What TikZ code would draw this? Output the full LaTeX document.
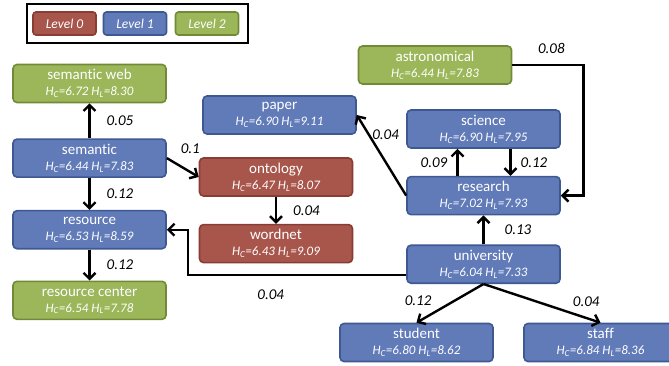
\documentclass[tikz,border=0pt]{standalone}
\usepackage{fontspec}
\setmainfont{Carlito}[Ligatures=NoCommon]
\usetikzlibrary{arrows.meta, positioning}

\definecolor{lvlred}{RGB}{168,86,76}
\definecolor{lvlredline}{RGB}{136,60,52}
\definecolor{lvlblue}{RGB}{97,122,184}
\definecolor{lvlblueline}{RGB}{62,88,146}
\definecolor{lvlgreen}{RGB}{155,183,90}
\definecolor{lvlgreenline}{RGB}{114,138,56}

\newcommand{\entr}[2]{{\fontsize{13}{14}\selectfont\itshape H\textsubscript{C}=#1 H\textsubscript{L}=#2}}

\tikzset{
  term/.style={rectangle, rounded corners=4pt, line width=1.6pt, minimum width=153pt,
               minimum height=38pt, inner sep=1pt, align=center, text=white,
               font=\fontsize{15}{16}\selectfont},
  lvl0/.style={term, fill=lvlred, draw=lvlredline},
  lvl1/.style={term, fill=lvlblue, draw=lvlblueline},
  lvl2/.style={term, fill=lvlgreen, draw=lvlgreenline},
  key/.style={rectangle, rounded corners=3pt, line width=1.6pt, minimum width=63pt,
              minimum height=23pt, text=white, font=\fontsize{13.5}{14}\selectfont\itshape},
  wt/.style={font=\fontsize{15}{15}\selectfont\itshape, text=black, inner sep=4pt}
}

\begin{document}
\begin{tikzpicture}[x=1pt, y=-1pt, auto, >={Straight Barb[length=6pt,width=12pt]}]
    \useasboundingbox (0,0) rectangle (669,366);

    % legend
    \node [draw, line width=2.4pt, minimum width=221pt, minimum height=39pt] (legend) at (137.5,23.5) {};
    \node [key, fill=lvlred, draw=lvlredline] (l0) at (64.5,23.5) {Level 0};
    \node [key, fill=lvlblue, draw=lvlblueline] (l1) at (135,23.5) {Level 1};
    \node [key, fill=lvlgreen, draw=lvlgreenline] (l2) at (207,23.5) {Level 2};

    % terms
    \node [lvl2] (semweb) at (89.5,83.5) {semantic web\\ \entr{6.72}{8.30}};
    \node [lvl1] (semantic) [below=35pt of semweb] {semantic\\ \entr{6.44}{7.83}};
    \node [lvl1] (resource) [below=32pt of semantic] {resource\\ \entr{6.53}{8.59}};
    \node [lvl2] (rescenter) [below=31pt of resource] {resource center\\ \entr{6.54}{7.78}};
    \node [lvl1] (paper) at (279.5,115) {paper\\ \entr{6.90}{9.11}};
    \node [lvl0] (ontology) at (276,177) {ontology\\ \entr{6.47}{8.07}};
    \node [lvl0] (wordnet) [below=27pt of ontology] {wordnet\\ \entr{6.43}{9.09}};
    \node [lvl2] (astro) at (435,65) {astronomical\\ \entr{6.44}{7.83}};
    \node [lvl1] (science) at (483.5,129) {science\\ \entr{6.90}{7.95}};
    \node [lvl1] (research) [below=27pt of science] {research\\ \entr{7.02}{7.93}};
    \node [lvl1] (univ) [below=29pt of research] {university\\ \entr{6.04}{7.33}};
    \node [lvl1] (student) at (416.5,342.5) {student\\ \entr{6.80}{8.62}};
    \node [lvl1] (staff) at (600.5,342.5) {staff\\ \entr{6.84}{8.36}};

    % links
    \path[->, line width=2.4pt]
    (semantic) edge [swap] node [wt, xshift=12pt] {0.05} (semweb)
               edge node [wt, xshift=12pt] {0.12} (resource)
    (semantic.east) edge node [wt, pos=0.55, above=10pt, xshift=6pt] {0.1} (ontology.west)
    (resource) edge node [wt, xshift=12pt] {0.12} (rescenter)
    (ontology) edge node [wt, xshift=12pt] {0.04} (wordnet)
    (research.west) edge node [wt, pos=0.6, above=2pt, xshift=9pt] {0.04} (paper.east)
    ([xshift=-26pt]research.north) edge node [wt, xshift=-5pt] {0.09} ([xshift=-26pt]science.south)
    ([xshift=27pt]science.south) edge node [wt, xshift=5pt] {0.12} ([xshift=27pt]research.north)
    (univ) edge [swap] node [wt, xshift=16pt] {0.13} (research)
    (univ.south) edge [swap] node [wt, pos=0.7] {0.12} (student.north)
                 edge node [wt, pos=0.72] {0.04} (staff.north);

    \draw[->, line width=2.4pt] (astro.east) -- node [wt, above=6pt, pos=0.55] {0.08} ++(71,0) |- (research.east);
    \draw[->, line width=2.4pt] ([yshift=-10.5pt]univ.west) -| node [wt, below=10pt, pos=0.31] {0.04} ([xshift=21pt]resource.east) -- (resource.east);
\end{tikzpicture}
\end{document}
